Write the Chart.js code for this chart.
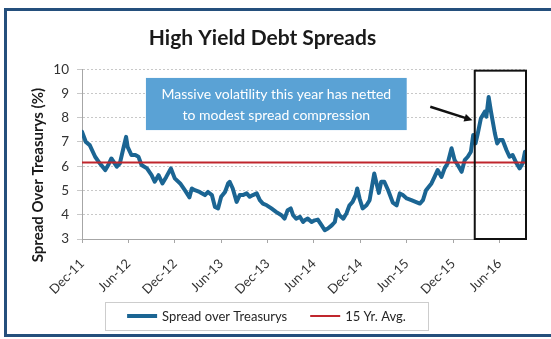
<!DOCTYPE html>
<html>
<head>
<meta charset="utf-8">
<script src="https://cdn.jsdelivr.net/npm/chart.js@4.4.1/dist/chart.umd.min.js"></script>
<style>
  html, body { margin: 0; padding: 0; background: #fff; }
  #wrap { position: relative; width: 551px; height: 339px; overflow: hidden; }
  #frame { position: absolute; left: 4px; top: 8px; width: 600px; height: 323px; border: 3px solid #244f7c; pointer-events: none; }
  canvas { position: absolute; left: 0; top: 0; }
</style>
</head>
<body>
<div id="wrap">
  <canvas id="hy-spreads" width="551" height="339"></canvas>
  <div id="frame"></div>
</div>
<script>
// x values are months counted from Dec-11
var tickLabels = ['Dec-11', 'Jun-12', 'Dec-12', 'Jun-13', 'Dec-13', 'Jun-14', 'Dec-14', 'Jun-15', 'Dec-15', 'Jun-16'];
var tickStep = 6;
var lastMonth = 57.3;

var spreadMonth = [
  0.0, 0.5, 1.0, 1.7, 2.3, 3.0, 3.4, 3.8, 4.5, 4.9, 5.3, 5.7, 5.9, 6.4, 6.9, 7.3, 7.7, 8.4, 9.0, 9.4,
  9.9, 10.4, 10.9, 11.5, 12.0, 12.7, 13.3, 13.9, 14.2, 14.6, 15.2, 15.9, 16.3, 16.8, 17.2, 17.6, 18.0, 18.5, 18.9, 19.1,
  19.5, 20.0, 20.4, 20.8, 21.3, 21.7, 22.1, 22.6, 23.0, 23.4, 23.9, 24.5, 25.1, 25.8, 26.2, 26.6, 27.0, 27.3, 27.7, 28.2,
  28.6, 28.8, 29.2, 29.7, 30.1, 30.5, 31.0, 31.4, 31.8, 32.3, 32.7, 33.0, 33.3, 33.8, 34.2, 34.6, 35.0, 35.4, 35.6, 35.9,
  36.3, 36.8, 37.2, 37.5, 37.8, 38.1, 38.4, 38.7, 39.1, 39.6, 40.2, 40.7, 41.1, 41.5, 42.0, 42.6, 43.7, 44.1, 44.5, 45.2,
  45.6, 46.0, 46.5, 46.9, 47.3, 47.8, 48.2, 48.6, 49.1, 49.5, 49.9, 50.3, 50.6, 50.9, 51.2, 51.6, 52.1, 52.3, 52.6, 52.9,
  53.4, 53.7, 54.0, 54.4, 54.9, 55.3, 55.7, 56.2, 56.6, 57.0, 57.3
];
var spreadValue = [
  7.42, 7.00, 6.87, 6.39, 6.12, 5.84, 6.05, 6.32, 5.98, 6.12, 6.67, 7.21, 6.80, 6.46, 6.46, 6.39, 6.05, 5.91, 5.63, 5.36,
  5.63, 5.29, 5.56, 5.91, 5.50, 5.29, 5.01, 4.72, 5.08, 5.01, 4.94, 4.81, 4.94, 4.81, 4.32, 4.26, 4.74, 4.94, 5.29, 5.36,
  5.08, 4.53, 4.81, 4.81, 4.88, 4.74, 4.81, 4.88, 4.60, 4.46, 4.39, 4.26, 4.12, 3.98, 3.84, 4.19, 4.26, 3.98, 3.84, 3.91,
  3.70, 3.77, 3.84, 3.70, 3.77, 3.80, 3.56, 3.36, 3.43, 3.56, 3.70, 4.19, 3.98, 3.84, 4.05, 4.39, 4.53, 4.81, 5.08, 4.67,
  4.26, 4.39, 4.60, 5.15, 5.70, 5.29, 4.90, 5.36, 5.36, 5.01, 4.50, 4.39, 4.88, 4.81, 4.67, 4.60, 4.46, 4.60, 5.01, 5.29,
  5.56, 5.84, 5.56, 5.91, 6.12, 6.74, 6.25, 6.05, 5.77, 6.25, 6.39, 6.60, 7.29, 6.94, 7.36, 7.98, 8.25, 8.04, 8.85, 8.25,
  7.36, 6.94, 7.08, 7.08, 6.67, 6.39, 6.46, 6.12, 5.91, 6.12, 6.60
];
var avgValue = 6.15;
var seriesLabels = ['Spread over Treasurys', '15 Yr. Avg.'];
var seriesColors = ['#1b6593', '#c0262d'];
var calloutLines = ['Massive volatility this year has netted', 'to modest spread compression'];
var yTitle = 'Spread Over Treasurys (%)';

var FONT = 'Lato, "Liberation Sans", sans-serif';

var spreadPoints = spreadMonth.map(function (m, i) { return { x: m, y: spreadValue[i] }; });
var avgPoints = [{ x: 0, y: avgValue }, { x: lastMonth, y: avgValue }];

// callout, arrow, 2016 box, axis title and legend
var decorations = {
  id: 'decorations',
  afterDatasetsDraw: function (chart) {
    var ctx = chart.ctx, area = chart.chartArea;
    var xs = chart.scales.x, ys = chart.scales.y;
    ctx.save();

    // box around this year's moves
    var bx0 = xs.getPixelForValue(50.8), bx1 = xs.getPixelForValue(lastMonth) + 1;
    var by0 = ys.getPixelForValue(9.94), by1 = ys.getPixelForValue(3.0);
    ctx.strokeStyle = '#111';
    ctx.lineWidth = 2;
    ctx.strokeRect(bx0, by0, bx1 - bx0, by1 - by0);

    // callout
    var cx0 = xs.getPixelForValue(8.27), cx1 = xs.getPixelForValue(42.0);
    var cy0 = ys.getPixelForValue(9.64), cy1 = ys.getPixelForValue(7.49);
    ctx.fillStyle = '#5aa2d5';
    ctx.fillRect(cx0, cy0, cx1 - cx0, cy1 - cy0);
    ctx.fillStyle = '#fff';
    ctx.font = '14px ' + FONT;
    ctx.textAlign = 'center';
    ctx.textBaseline = 'middle';
    ctx.fillText(calloutLines[0], (cx0 + cx1) / 2, cy0 + 17);
    ctx.fillText(calloutLines[1], (cx0 + cx1) / 2, cy0 + 38);

    // arrow
    var ax0 = xs.getPixelForValue(45.05), ay0 = ys.getPixelForValue(8.45);
    var ax1 = xs.getPixelForValue(50.5), ay1 = ys.getPixelForValue(7.9);
    var ang = Math.atan2(ay1 - ay0, ax1 - ax0);
    ctx.strokeStyle = '#111';
    ctx.lineWidth = 2.5;
    ctx.beginPath();
    ctx.moveTo(ax0, ay0);
    ctx.lineTo(ax1 - 6 * Math.cos(ang), ay1 - 6 * Math.sin(ang));
    ctx.stroke();
    ctx.fillStyle = '#111';
    ctx.beginPath();
    ctx.moveTo(ax1, ay1);
    ctx.lineTo(ax1 - 9 * Math.cos(ang - 0.45), ay1 - 9 * Math.sin(ang - 0.45));
    ctx.lineTo(ax1 - 9 * Math.cos(ang + 0.45), ay1 - 9 * Math.sin(ang + 0.45));
    ctx.closePath();
    ctx.fill();

    // y axis title
    ctx.save();
    ctx.translate(38, (area.top + area.bottom) / 2 + 21);
    ctx.rotate(-Math.PI / 2);
    ctx.fillStyle = '#1a1a1a';
    ctx.font = 'bold 15px ' + FONT;
    ctx.textAlign = 'center';
    ctx.textBaseline = 'middle';
    ctx.fillText(yTitle, 0, 0);
    ctx.restore();

    // legend
    var lx0 = 105, lx1 = 428, ly0 = 302, ly1 = 330, midY = (ly0 + ly1) / 2;
    ctx.strokeStyle = '#9a9a9a';
    ctx.lineWidth = 1;
    ctx.setLineDash([1, 1]);
    ctx.strokeRect(lx0 + 0.5, ly0 + 0.5, lx1 - lx0, ly1 - ly0);
    ctx.setLineDash([]);
    ctx.font = '13px ' + FONT;
    ctx.textAlign = 'left';
    var w0 = ctx.measureText(seriesLabels[0]).width, w1 = ctx.measureText(seriesLabels[1]).width;
    var total = 30 + 5 + w0 + 23 + 30 + 5 + w1;
    var px = (lx0 + lx1) / 2 - total / 2;
    var widths = [4, 2];
    for (var i = 0; i < 2; i++) {
      ctx.strokeStyle = seriesColors[i];
      ctx.lineWidth = widths[i];
      ctx.beginPath();
      ctx.moveTo(px, midY);
      ctx.lineTo(px + 30, midY);
      ctx.stroke();
      ctx.fillStyle = '#262626';
      ctx.fillText(seriesLabels[i], px + 35, midY + 1);
      px += 35 + (i === 0 ? w0 : w1) + 23;
    }
    ctx.restore();
  }
};

new Chart(document.getElementById('hy-spreads'), {
  type: 'line',
  data: {
    datasets: [{
      label: seriesLabels[0],
      data: spreadPoints,
      borderColor: seriesColors[0],
      borderWidth: 4,
      borderJoinStyle: 'round',
      borderCapStyle: 'round',
      pointRadius: 0,
      tension: 0,
      order: 1
    }, {
      label: seriesLabels[1],
      data: avgPoints,
      borderColor: seriesColors[1],
      borderWidth: 2,
      pointRadius: 0,
      order: 0
    }]
  },
  options: {
    responsive: false,
    animation: false,
    devicePixelRatio: 1,
    layout: { padding: { left: 0, right: 26, top: 0, bottom: 0 } },
    plugins: {
      legend: { display: false },
      tooltip: { enabled: false },
      title: {
        display: true,
        text: 'High Yield Debt Spreads',
        color: '#1a1a1a',
        font: { family: FONT, size: 21, weight: 'bold' },
        padding: { top: 26, bottom: 18 }
      }
    },
    scales: {
      x: {
        type: 'linear',
        min: 0,
        max: lastMonth,
        afterFit: function (scale) { scale.height = 100; },
        grid: { drawOnChartArea: false, drawTicks: true, tickLength: 4, color: '#a6a6a6' },
        border: { display: true, color: '#a6a6a6' },
        ticks: {
          stepSize: tickStep,
          includeBounds: false,
          autoSkip: false,
          minRotation: 45,
          maxRotation: 45,
          padding: 13,
          color: '#333',
          font: { family: FONT, size: 13 },
          callback: function (v) {
            var idx = Math.round(v / tickStep);
            return Math.abs(v - idx * tickStep) < 0.01 ? tickLabels[idx] : '';
          }
        }
      },
      y: {
        min: 3,
        max: 10,
        afterFit: function (scale) { scale.width = 82; },
        grid: { color: '#c8c8c8', tickLength: 5 },
        border: { display: true, color: '#a6a6a6', dash: [2, 2] },
        ticks: {
          stepSize: 1,
          padding: 8,
          color: '#333',
          font: { family: FONT, size: 13.5 }
        }
      }
    }
  },
  plugins: [decorations]
});
</script>
</body>
</html>
